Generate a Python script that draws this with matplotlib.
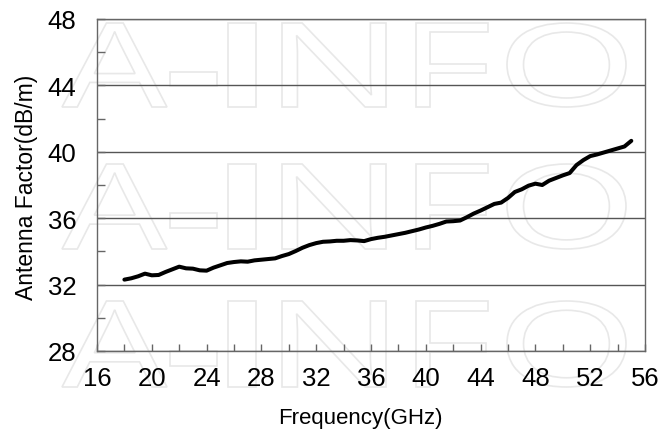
import numpy as np
import matplotlib
matplotlib.use('Agg')
import matplotlib.pyplot as plt
from matplotlib.textpath import TextPath
from matplotlib.patches import PathPatch
from matplotlib.font_manager import FontProperties
from matplotlib.transforms import Affine2D, IdentityTransform

# ---- data ----
freq = [18.0, 18.5, 19.0, 19.5, 20.0, 20.5, 21.0, 21.5, 22.0, 22.5,
        23.0, 23.5, 24.0, 24.5, 25.0, 25.5, 26.0, 26.5, 27.0, 27.5,
        28.0, 28.5, 29.0, 29.5, 30.0, 30.5, 31.0, 31.5, 32.0, 32.5,
        33.0, 33.5, 34.0, 34.5, 35.0, 35.5, 36.0, 36.5, 37.0, 37.5,
        38.0, 38.5, 39.0, 39.5, 40.0, 40.5, 41.0, 41.5, 42.0, 42.5,
        43.0, 43.5, 44.0, 44.5, 45.0, 45.5, 46.0, 46.5, 47.0, 47.5,
        48.0, 48.5, 49.0, 49.5, 50.0, 50.5, 51.0, 51.5, 52.0, 52.5,
        53.0, 53.5, 54.0, 54.5, 55.0]
af = [32.30, 32.38, 32.50, 32.66, 32.56, 32.58, 32.76, 32.92, 33.08, 32.98,
      32.96, 32.86, 32.84, 33.02, 33.16, 33.30, 33.36, 33.40, 33.38, 33.46,
      33.50, 33.54, 33.58, 33.72, 33.84, 34.02, 34.22, 34.38, 34.50, 34.58,
      34.60, 34.64, 34.64, 34.68, 34.66, 34.62, 34.74, 34.82, 34.88, 34.96,
      35.04, 35.12, 35.22, 35.32, 35.44, 35.54, 35.66, 35.80, 35.82, 35.86,
      36.06, 36.28, 36.46, 36.66, 36.86, 36.94, 37.22, 37.58, 37.74, 37.96,
      38.08, 38.00, 38.26, 38.42, 38.58, 38.72, 39.20, 39.50, 39.74, 39.84,
      39.96, 40.08, 40.20, 40.32, 40.66]

xticks = [16, 20, 24, 28, 32, 36, 40, 44, 48, 52, 56]
yticks = [28, 32, 36, 40, 44, 48]

plt.rcParams['font.family'] = ['Liberation Sans', 'DejaVu Sans']

fig = plt.figure(figsize=(6.6, 4.39), dpi=100)
ax = fig.add_axes([97/660, 1-352/439, (645-97)/660, (352-20)/439])

# faint "A-INFO" watermark, drawn in pixel space behind everything
fp = FontProperties(family='Liberation Sans')
letters = [('A', 62, 167), ('-', 170, 217), ('I', 228, 256),
           ('N', 282, 386), ('F', 416, 488), ('O', 507, 626)]
rows = [(24, 108), (165, 250), (302, 388)]
for top, bot in rows:
    for ch, x0, x1 in letters:
        tp = TextPath((0, 0), ch, size=1, prop=fp)
        ext = tp.get_extents()
        hgt = bot - top
        if ch == '-':
            yb, yt = 439 - bot + 0.25*hgt, 439 - bot + 0.42*hgt
        else:
            yb, yt = 439 - bot, 439 - top
        tr = Affine2D().translate(-ext.x0, -ext.y0) \
            .scale((x1 - x0)/ext.width, (yt - yb)/ext.height).translate(x0, yb)
        fig.patches.append(PathPatch(tr.transform_path(tp), facecolor='none',
                                     edgecolor='#e8e8e8', lw=1.2,
                                     transform=IdentityTransform(), zorder=-1))

ax.set_facecolor('none')
ax.plot(freq, af, color='black', lw=2.9, solid_capstyle='round', zorder=3)

ax.set_xlim(16, 56)
ax.set_ylim(28, 48)
ax.set_xticks(xticks)
ax.set_yticks(yticks)
ax.set_xticks(np.arange(18, 56, 2), minor=True)
ax.set_yticks(np.arange(30, 48, 4), minor=True)
ax.tick_params(which='both', direction='in', colors='#666666', labelcolor='black',
               labelsize=18.5, width=1)
ax.tick_params(axis='x', which='both', length=5, pad=11)
ax.tick_params(axis='y', which='both', length=6, pad=15)
ax.grid(axis='y', which='major', color='#555555', lw=1)
for s in ax.spines.values():
    s.set_color('#666666')
    s.set_linewidth(1)

ax.set_xlabel('Frequency(GHz)', fontsize=16)
ax.set_ylabel('Antenna Factor(dB/m)', fontsize=16.5)
ax.xaxis.set_label_coords(0.48, -0.168)
ax.yaxis.set_label_coords(-0.107, 0.495)

fig.savefig('out.png', dpi=100)
